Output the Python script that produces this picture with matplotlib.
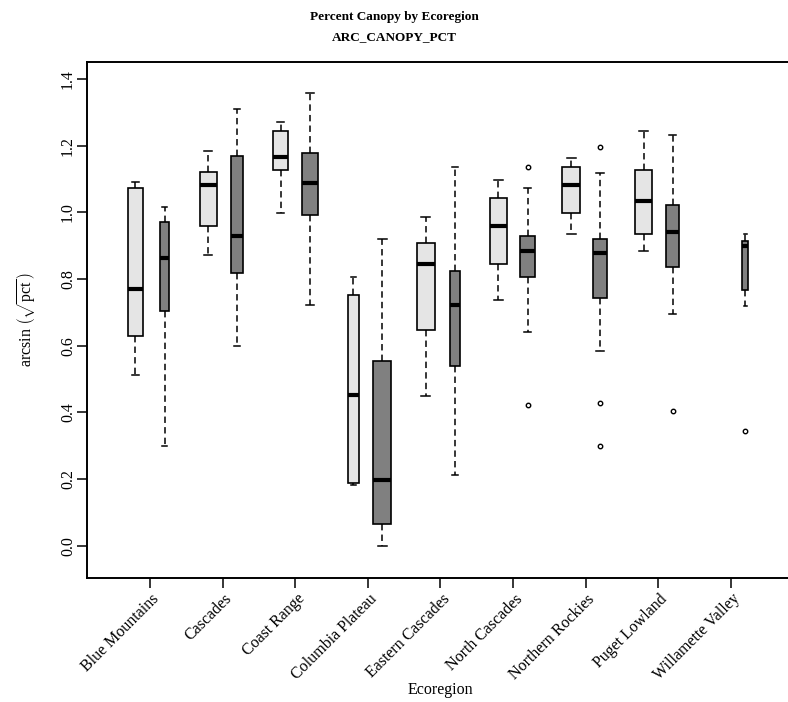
import numpy as np
import matplotlib
matplotlib.use("Agg")
import matplotlib.pyplot as plt
import matplotlib.transforms as mtransforms

plt.rcParams['font.family'] = ['Liberation Serif', 'DejaVu Serif']
plt.rcParams['mathtext.fontset'] = 'custom'
plt.rcParams['mathtext.rm'] = 'Liberation Serif'
plt.rcParams['mathtext.it'] = 'Liberation Serif:italic'
plt.rcParams['lines.scale_dashes'] = False

ecoregions = ["Blue Mountains", "Cascades", "Coast Range", "Columbia Plateau",
              "Eastern Cascades", "North Cascades", "Northern Rockies",
              "Puget Lowland", "Willamette Valley"]

# five-number summaries per ecoregion: [whisker low, Q1, median, Q3, whisker high]
# first group (light boxes); None where the group has no data
light_stats = [
    [0.512, 0.629, 0.771, 1.074, 1.092],
    [0.871, 0.960, 1.082, 1.122, 1.185],
    [0.999, 1.127, 1.167, 1.245, 1.272],
    [0.182, 0.189, 0.453, 0.752, 0.805],
    [0.449, 0.647, 0.846, 0.907, 0.986],
    [0.736, 0.845, 0.960, 1.044, 1.096],
    [0.934, 0.998, 1.083, 1.136, 1.162],
    [0.885, 0.934, 1.035, 1.127, 1.245],
    None,
]
light_n = [15, 17, 13, 7, 19, 17, 20, 17, 0]
light_out = [[], [], [], [], [], [], [], [], []]

# second group (dark boxes)
dark_stats = [
    [0.300, 0.705, 0.863, 0.972, 1.017],
    [0.600, 0.819, 0.930, 1.170, 1.310],
    [0.722, 0.991, 1.087, 1.179, 1.359],
    [0.000, 0.066, 0.198, 0.554, 0.920],
    [0.211, 0.538, 0.722, 0.823, 1.135],
    [0.642, 0.805, 0.885, 0.930, 1.074],
    [0.585, 0.744, 0.877, 0.920, 1.117],
    [0.696, 0.837, 0.942, 1.021, 1.231],
    [0.719, 0.767, 0.899, 0.915, 0.934],
]
dark_n = [4, 8, 16, 19, 7, 14, 13, 11, 2.4]
dark_out = [[], [], [], [], [], [1.135, 0.422], [1.197, 0.427, 0.299],
            [0.405], [0.344]]

yticks = [0.0, 0.2, 0.4, 0.6, 0.8, 1.0, 1.2, 1.4]

W, H = 788, 702
fig = plt.figure(figsize=(W / 100, H / 100), dpi=100)
ax = fig.add_axes([87 / W, 1 - 577.7 / H, 706.8 / W, 516 / H])

max_n = max(max(light_n), max(dark_n))
max_w = 0.252


def make_stats(stats, outs):
    res = []
    for s, o in zip(stats, outs):
        if s is None:
            continue
        res.append(dict(whislo=s[0], q1=s[1], med=s[2], q3=s[3], whishi=s[4],
                        fliers=o))
    return res


def draw_group(stats, ns, outs, offset, face):
    keep = [i for i, s in enumerate(stats) if s is not None]
    pos = [i + 1 + offset for i in keep]
    widths = [max_w * np.sqrt(ns[i] / max_n) for i in keep]
    ax.bxp(make_stats(stats, outs), positions=pos, widths=widths,
           capwidths=[w / 2 for w in widths], patch_artist=True,
           showfliers=True, manage_ticks=False,
           boxprops=dict(facecolor=face, edgecolor='black', linewidth=1.2),
           medianprops=dict(color='black', linewidth=3.0, solid_capstyle='butt'),
           whiskerprops=dict(color='black', linewidth=1.1,
                             linestyle=(0, (4.6, 3.0))),
           capprops=dict(color='black', linewidth=1.1),
           flierprops=dict(marker='o', markersize=3.2, markerfacecolor='none',
                           markeredgecolor='black', markeredgewidth=1.0))


draw_group(light_stats, light_n, light_out, -0.2, '#e5e5e5')
draw_group(dark_stats, dark_n, dark_out, 0.2, '#808080')

ax.set_xlim(0.132, 9.868)
ax.set_ylim(-0.096, 1.452)

for sp in ax.spines.values():
    sp.set_linewidth(1.4)

ax.set_yticks(yticks)
ax.set_yticklabels([f"{v:.1f}" for v in yticks], rotation=90, va='center',
                   fontsize=11.5)
ax.tick_params(axis='y', length=7, width=1.1, pad=1)

ax.set_xticks(np.arange(1, len(ecoregions) + 1))
ax.set_xticklabels([])
ax.tick_params(axis='x', length=7, width=1.1)

trans = mtransforms.blended_transform_factory(ax.transData, ax.transAxes)
for i, name in enumerate(ecoregions):
    ax.text(i + 1, 0, name, transform=trans + mtransforms.ScaledTranslation(
        0.07, -0.19, fig.dpi_scale_trans),
        rotation=45, rotation_mode='anchor', ha='right', va='center',
        fontsize=11.5, clip_on=False)

ax.set_xlabel("Ecoregion", fontsize=11.5, va='center')
ax.xaxis.set_label_coords(0.5, (577.7 - 690) / 516)
ax.set_ylabel(r"arcsin $\left(\sqrt{\mathrm{pct}}\,\right)$", fontsize=11.5)
ax.yaxis.set_label_coords(-0.068, 0.5)

fig.text(0.5, 1 - 17 / H, "Percent Canopy by Ecoregion", ha='center',
         va='center', fontsize=9.5, fontweight='bold')
fig.text(0.5, 1 - 37 / H, "ARC_CANOPY_PCT", ha='center', va='center',
         fontsize=9.5, fontweight='bold')

fig.savefig("out.png", dpi=100)
